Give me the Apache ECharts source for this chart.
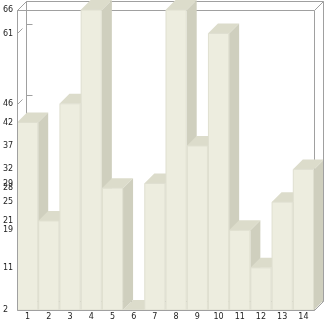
<!DOCTYPE html>
<html><head><meta charset="utf-8">
<script src="https://cdn.jsdelivr.net/npm/echarts@6/dist/echarts.min.js"></script>
<style>html,body{margin:0;padding:0;background:#fff}#c{width:326px;height:321px}</style>
</head><body><div id="c"></div>
<script>
const categories = ['1','2','3','4','5','6','7','8','9','10','11','12','13','14'];
const values = [42, 21, 46, 66, 28, 2, 29, 66, 37, 61, 19, 11, 25, 32];
const tickValues = [2, 11, 19, 21, 25, 28, 29, 32, 37, 42, 46, 61, 66];
const yMin = 2, yMax = 66;

const frameColor = '#a0a0a0';
const frontColor = '#ededdf';
const topColor = '#dcdccb';
const sideColor = '#cfcfbe';
const edgeColor = '#dfdfd0';
const FD = 9;   // frame depth
const BD = 10;  // bar depth

const px = v => Math.round(v) + 0.5;
function ln(x1, y1, x2, y2) {
  return {type: 'line', shape: {x1, y1, x2, y2}, style: {stroke: frameColor, lineWidth: 1}};
}

function renderFrameBack(params, api) {
  const cs = params.coordSys;
  const L = px(cs.x), T = px(cs.y), R = px(cs.x + cs.width), B = px(cs.y + cs.height);
  const ch = [
    ln(L + FD, T - FD, R + FD, T - FD),
    ln(L + FD, T - FD, L + FD, B - FD),
    ln(L + FD, B - FD, R + FD, B - FD),
    ln(L, T, R, T),
    ln(R, T, R, B),
    ln(L, T, L + FD, T - FD),
    ln(R, T, R + FD, T - FD)
  ];
  tickValues.forEach(v => {
    const y = px(api.coord([0, v])[1]);
    ch.push(ln(L + FD, y - FD, L + FD + 6, y - FD));
    ch.push(ln(L, y, L + 5, y - 5));
  });
  return {type: 'group', children: ch};
}

function renderFrameFront(params, api) {
  const cs = params.coordSys;
  const L = px(cs.x), T = px(cs.y), R = px(cs.x + cs.width), B = px(cs.y + cs.height);
  return {type: 'group', children: [
    ln(L, T, L, B),
    ln(L, B, R, B),
    ln(R, B, R + FD, B - FD),
    ln(R + FD, T - FD, R + FD, B - FD)
  ]};
}

function renderBar(params, api) {
  const i = api.value(0), v = api.value(1);
  const top = api.coord([i, v]);
  const base = api.coord([i, yMin]);
  const bw = api.size([1, 0])[0];
  const x0 = top[0] - bw / 2, x1 = top[0] + bw / 2;
  const yt = top[1], yb = base[1];
  return {type: 'group', children: [
    {type: 'polygon', shape: {points: [[x1, yt], [x1 + BD, yt - BD], [x1 + BD, yb - BD], [x1, yb]]}, style: {fill: sideColor}},
    {type: 'polygon', shape: {points: [[x0, yt], [x1, yt], [x1 + BD, yt - BD], [x0 + BD, yt - BD]]}, style: {fill: topColor}},
    {type: 'rect', shape: {x: x0 + 0.5, y: yt, width: bw - 1, height: yb - yt}, style: {fill: frontColor, stroke: edgeColor, lineWidth: 1}}
  ]};
}

const chart = echarts.init(document.getElementById('c'), null, {renderer: 'canvas'});
chart.setOption({
  animation: false,
  backgroundColor: '#ffffff',
  grid: {left: 14, top: 10, right: 12, bottom: 11, containLabel: false},
  xAxis: {
    type: 'category', data: categories, boundaryGap: true,
    axisLine: {show: false}, axisTick: {show: false}, splitLine: {show: false},
    axisLabel: {fontSize: 8, fontFamily: 'DejaVu Sans', color: '#222', margin: 3, interval: 0}
  },
  yAxis: {
    type: 'value', min: yMin, max: yMax,
    axisLine: {show: false}, axisTick: {show: false}, splitLine: {show: false},
    axisLabel: {customValues: tickValues, fontSize: 8, fontFamily: 'DejaVu Sans', color: '#222',
      align: 'left', margin: 14, padding: [0, 0, 5, 0], hideOverlap: false}
  },
  series: [
    {type: 'custom', z: 1, renderItem: renderFrameBack, data: [[0, yMin]], silent: true, clip: false},
    {type: 'custom', z: 2, renderItem: renderBar, data: values.map((v, i) => [i, v]), clip: false},
    {type: 'custom', z: 3, renderItem: renderFrameFront, data: [[0, yMin]], silent: true, clip: false}
  ]
});
</script></body></html>
